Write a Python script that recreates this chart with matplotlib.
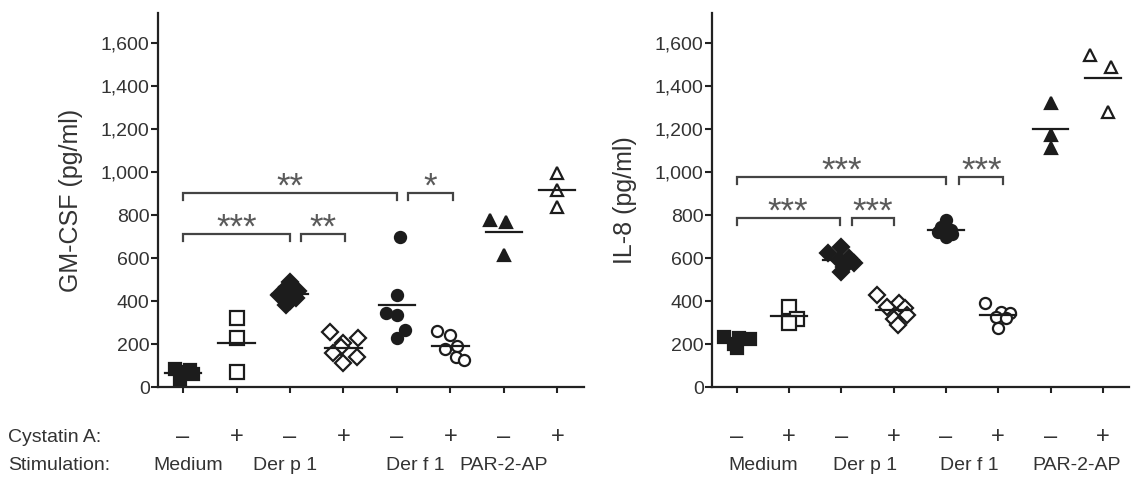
import numpy as np
import matplotlib
matplotlib.use("Agg")
import matplotlib.pyplot as plt

plt.rcParams['font.family'] = ['Liberation Sans', 'DejaVu Sans']

# ---------------- data ----------------
cystatin = ['–', '+', '–', '+', '–', '+', '–', '+']
stimulation = ['Medium', 'Der p 1', 'Der f 1', 'PAR-2-AP']
yticks = [0, 200, 400, 600, 800, 1000, 1200, 1400, 1600]

gmcsf_med_neg = [82, 78, 72, 60, 35]
gmcsf_med_pos = [320, 228, 70]
gmcsf_derp_neg = [490, 465, 445, 430, 415, 400, 380]
gmcsf_derp_pos = [255, 230, 205, 185, 160, 140, 110]
gmcsf_derf_neg = [698, 428, 344, 335, 265, 228]
gmcsf_derf_pos = [262, 240, 190, 178, 140, 125]
gmcsf_par_neg = [777, 767, 614]
gmcsf_par_pos = [995, 916, 837]

il8_med_neg = [232, 228, 222, 200, 182]
il8_med_pos = [372, 315, 298]
il8_derp_neg = [650, 622, 600, 590, 575, 560, 535]
il8_derp_pos = [428, 390, 372, 367, 335, 318, 288]
il8_derf_neg = [775, 745, 732, 722, 712, 700]
il8_derf_pos = [391, 349, 344, 326, 320, 274]
il8_par_neg = [1321, 1172, 1112]
il8_par_pos = [1544, 1488, 1279]

# significance brackets: (x_start, x_end, y, label)
gmcsf_sig = [(0, 4, 902, '**'), (4.2, 5.05, 902, '*'),
             (0, 2, 712, '***'), (2.2, 3.03, 712, '**')]
il8_sig = [(0, 4, 977, '***'), (4.25, 5.1, 977, '***'),
           (0, 1.97, 786, '***'), (2.2, 3.0, 786, '***')]

# ---------------- styles ----------------
INK = '#1c1c1c'
TXT = '#333333'
group_style = [
    dict(marker='s', filled=True, ms=9),
    dict(marker='s', filled=False, ms=10),
    dict(marker='D', filled=True, ms=8),
    dict(marker='D', filled=False, ms=8),
    dict(marker='o', filled=True, ms=8),
    dict(marker='o', filled=False, ms=8),
    dict(marker='^', filled=True, ms=9),
    dict(marker='^', filled=False, ms=8),
]
offsets_gm = [
    [-0.15, 0.12, 0.0, 0.18, -0.05],
    [0.0, 0.0, 0.0],
    [0.0, -0.05, 0.15, -0.2, 0.12, 0.0, -0.08],
    [-0.25, 0.28, 0.0, -0.05, -0.2, 0.25, 0.0],
    [0.05, 0.0, -0.2, 0.0, 0.15, 0.0],
    [-0.25, 0.0, 0.12, -0.1, 0.1, 0.25],
    [-0.25, 0.05, 0.0],
    [0.0, 0.0, 0.0],
]
offsets_il = [
    [-0.25, 0.05, 0.25, -0.05, 0.0],
    [0.0, 0.15, 0.0],
    [0.0, -0.25, 0.15, -0.05, 0.25, 0.05, 0.0],
    [-0.32, 0.1, -0.12, 0.22, 0.25, -0.0, 0.08],
    [0.0, -0.1, 0.1, -0.15, 0.12, 0.0],
    [-0.25, 0.05, 0.22, -0.05, 0.15, 0.0],
    [0.0, 0.0, 0.0],
    [-0.25, 0.15, 0.1],
]
stim_pos_left = [0.1, 1.9, 4.35, 6.0]
stim_pos_right = [0.5, 2.45, 4.45, 6.5]

fig = plt.figure(figsize=(11.35, 4.84), dpi=100)
axL = fig.add_axes([158 / 1135, 97 / 484, 426 / 1135, 374 / 484])
axR = fig.add_axes([712 / 1135, 97 / 484, 417 / 1135, 374 / 484])


def draw(ax, groups, offsets, sig, ylabel, stim_pos):
    for i, (vals, offs, st) in enumerate(zip(groups, offsets, group_style)):
        xs = [i + o for o in offs]
        ax.plot(xs, vals, linestyle='none', marker=st['marker'],
                markersize=st['ms'],
                markerfacecolor=INK if st['filled'] else 'white',
                markeredgecolor=INK, markeredgewidth=1.6, zorder=3)
        m = np.mean(vals)
        ax.plot([i - 0.34, i + 0.34], [m, m], color=INK, lw=1.6, zorder=4)
    for x0, x1, y, lab in sig:
        tip = 32
        ax.plot([x0, x0, x1, x1], [y - tip, y, y, y - tip], color='#444444',
                lw=1.6, solid_joinstyle='miter', zorder=2)
        ax.text((x0 + x1) / 2, y - 18, lab, ha='center', va='baseline',
                fontsize=25, color='#5a5a5a')
    ax.set_xlim(-0.47, 7.5)
    ax.set_ylim(0, 1740)
    ax.set_yticks(yticks)
    ax.set_yticklabels([f'{v:,}' for v in yticks])
    ax.set_xticks(range(len(cystatin)))
    ax.set_xticklabels([])
    for s in ['top', 'right']:
        ax.spines[s].set_visible(False)
    for s in ['left', 'bottom']:
        ax.spines[s].set_linewidth(1.6)
        ax.spines[s].set_color('#222222')
    ax.tick_params(axis='y', direction='out', length=5, width=1.5,
                   labelsize=14, colors='#222222', labelcolor=TXT, pad=1)
    ax.tick_params(axis='x', direction='out', length=4, width=1.5,
                   colors='#222222')
    ax.set_ylabel(ylabel, fontsize=18, color=TXT, labelpad=13)
    # category annotations under the axis
    for i, sgn in enumerate(cystatin):
        ax.text(i, -0.135, sgn, transform=ax.get_xaxis_transform(),
                ha='center', va='center', fontsize=17, color=TXT)
    for name, xp in zip(stimulation, stim_pos):
        ax.text(xp, -0.21, name, transform=ax.get_xaxis_transform(),
                ha='center', va='center', fontsize=14, color=TXT)


draw(axL, [gmcsf_med_neg, gmcsf_med_pos, gmcsf_derp_neg, gmcsf_derp_pos,
           gmcsf_derf_neg, gmcsf_derf_pos, gmcsf_par_neg, gmcsf_par_pos],
     offsets_gm, gmcsf_sig, 'GM-CSF (pg/ml)', stim_pos_left)
draw(axR, [il8_med_neg, il8_med_pos, il8_derp_neg, il8_derp_pos,
           il8_derf_neg, il8_derf_pos, il8_par_neg, il8_par_pos],
     offsets_il, il8_sig, 'IL-8 (pg/ml)', stim_pos_right)

fig.text(8 / 1135, 1 - 437 / 484, 'Cystatin A:', ha='left', va='center',
         fontsize=14, color=TXT)
fig.text(8 / 1135, 1 - 466 / 484, 'Stimulation:', ha='left', va='center',
         fontsize=14, color=TXT)

fig.savefig('out.png', dpi=100)
